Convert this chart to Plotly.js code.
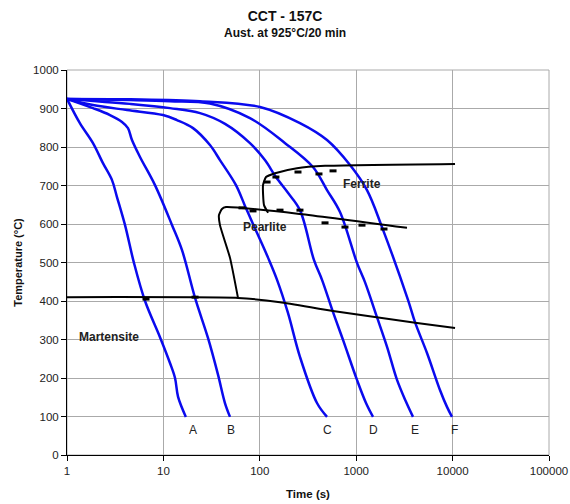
<!DOCTYPE html>
<html>
<head>
<meta charset="utf-8">
<script src="https://cdn.plot.ly/plotly-3.0.1.min.js"></script>
<style>
  html, body { margin: 0; padding: 0; background: #fff; }
  #chart { width: 570px; height: 504px; }
</style>
</head>
<body>
<div id="chart"></div>
<script>
// ---- Cooling curves (time in s, temperature in °C) ----
const curveA_t = [1, 1.36, 1.86, 2.36, 2.93, 3.30, 4.0, 4.95, 6.45, 9.22, 11.7, 13.2, 14.2, 17.1];
const curveA_T = [925, 862, 810, 758, 714, 670, 597, 499, 400, 306, 239, 200, 151, 99];

const curveB_t = [1, 1.86, 2.79, 3.72, 4.29, 4.72, 5.72, 8.18, 12.3, 15.6, 21.3, 29.0, 36.9, 43.5, 49.1];
const curveB_T = [925, 901, 883, 865, 849, 818, 774, 701, 597, 532, 408, 304, 208, 135, 99];

const curveC_t = [1, 1.86, 4.19, 9.9, 13.8, 20.3, 30.4, 38.6, 56.6, 70.2, 85.0, 122, 151, 196, 261, 392, 498];
const curveC_T = [925, 909, 896, 883, 870, 849, 805, 766, 701, 647, 600, 512, 455, 369, 255, 135, 99];

const curveD_t = [1, 4.5, 11.7, 24.0, 43.6, 79.1, 113, 147, 196, 261, 365, 442, 575, 730, 1019, 1264, 1494];
const curveD_T = [925, 912, 901, 888, 860, 810, 766, 722, 681, 636, 506, 455, 371, 299, 195, 135, 99];

const curveE_t = [1, 4.5, 11.7, 30.4, 79.1, 183, 356, 498, 679, 1019, 1233, 1643, 2089, 2651, 3287, 3882];
const curveE_T = [925, 922, 919, 913, 875, 810, 748, 688, 631, 499, 449, 358, 281, 195, 138, 99];

const curveF_t = [1, 4.5, 24.0, 100.5, 261, 498, 863, 1294, 1852, 3445, 4073, 5425, 7395, 8745, 9860];
const curveF_T = [925, 924, 919, 904, 862, 818, 753, 688, 592, 403, 345, 265, 169, 125, 99];

const curveLabels = ['A', 'B', 'C', 'D', 'E', 'F'];

// ---- Transformation boundaries ----
const martensite_t = [1, 59.4, 162, 575, 4272, 10600];
const martensite_T = [410, 408, 397, 374, 343, 330];

const pearlite_t = [59.4, 49.1, 38.6, 37.7, 40.5, 44.6, 261, 3365];
const pearlite_T = [408, 512, 597, 623, 639, 644, 626, 590];

const ferrite_t = [122, 110.6, 108, 116, 144, 243, 475, 10600];
const ferrite_T = [629, 649, 701, 722, 732, 745, 751, 756];

// ---- Measured transformation points ----
const ferritePts_t = [119, 147, 249, 411, 575];
const ferritePts_T = [709, 722, 735, 730, 738];
const pearlitePts_t = [65.4, 85.0, 162, 261, 475, 765, 1148, 1942];
const pearlitePts_T = [642, 634, 636, 636, 603, 592, 597, 587];
const martPts_t = [6.60, 21.3];
const martPts_T = [405, 410];

// ---- Axis ticks ----
const xTickVals = [1, 10, 100, 1000, 10000, 100000];
const xTickText = ['1', '10', '100', '1000', '10000', '100000'];

const FONT = 'Liberation Sans, Arial, sans-serif';
const BLUE = '#0a0aee';

const curves = [
  [curveA_t, curveA_T], [curveB_t, curveB_T], [curveC_t, curveC_T],
  [curveD_t, curveD_T], [curveE_t, curveE_T], [curveF_t, curveF_T]
];

const traces = [];
curves.forEach(function (c) {
  traces.push({
    x: c[0], y: c[1], mode: 'lines', type: 'scatter',
    line: { color: BLUE, width: 2.5, shape: 'spline', smoothing: 1 },
    hoverinfo: 'skip'
  });
});

[[martensite_t, martensite_T], [pearlite_t, pearlite_T], [ferrite_t, ferrite_T]].forEach(function (b) {
  traces.push({
    x: b[0], y: b[1], mode: 'lines', type: 'scatter',
    line: { color: '#000', width: 2, shape: 'spline', smoothing: 0.5 },
    hoverinfo: 'skip'
  });
});

[[ferritePts_t, ferritePts_T], [pearlitePts_t, pearlitePts_T], [martPts_t, martPts_T]].forEach(function (p) {
  traces.push({
    x: p[0], y: p[1], mode: 'markers', type: 'scatter',
    marker: { symbol: 'line-ew', size: 5, color: '#000', line: { color: '#000', width: 3 } },
    hoverinfo: 'skip'
  });
});

const labelShift = [7, 1, 0, 0, 2, 2];
const annotations = curves.map(function (c, i) {
  const n = c[0].length;
  return {
    x: Math.log10(c[0][n - 1]), y: c[1][n - 1], xref: 'x', yref: 'y',
    text: curveLabels[i], showarrow: false, yshift: -13, xshift: labelShift[i],
    font: { family: FONT, size: 12, color: '#222' }
  };
});

annotations.push(
  { x: 3.06, y: 704, xref: 'x', yref: 'y', text: '<b>Ferrite</b>', showarrow: false,
    font: { family: FONT, size: 12, color: '#222' } },
  { x: 2.054, y: 592, xref: 'x', yref: 'y', text: '<b>Pearlite</b>', showarrow: false,
    font: { family: FONT, size: 12, color: '#222' } },
  { x: 0.436, y: 306, xref: 'x', yref: 'y', text: '<b>Martensite</b>', showarrow: false,
    font: { family: FONT, size: 12, color: '#222' } },
  { x: 0.452, y: 1.096, xref: 'paper', yref: 'paper', text: '<b>Aust. at 925°C/20 min</b>',
    showarrow: false, xanchor: 'center', yanchor: 'middle',
    font: { family: FONT, size: 12, color: '#111' } }
);

const layout = {
  width: 570, height: 504,
  margin: { l: 67, r: 21, t: 70, b: 49 },
  paper_bgcolor: '#fff', plot_bgcolor: '#fff',
  showlegend: false,
  title: {
    text: '<b>CCT - 157C</b>',
    x: 0.5, xref: 'container', xanchor: 'center',
    y: 1 - 16 / 504, yref: 'container', yanchor: 'middle',
    font: { family: FONT, size: 14, color: '#111' }
  },
  xaxis: {
    type: 'log', range: [0, 5],
    tickvals: xTickVals, ticktext: xTickText,
    ticks: 'outside', ticklen: 5, tickcolor: '#000', tickwidth: 1,
    showline: true, linecolor: '#000', linewidth: 1,
    showgrid: true, gridcolor: '#aaaaaa', gridwidth: 1,
    zeroline: false,
    tickfont: { family: FONT, size: 11.5, color: '#222' },
    title: { text: '<b>Time (s)</b>', standoff: 14, font: { family: FONT, size: 11.5, color: '#111' } }
  },
  yaxis: {
    range: [0, 1000], dtick: 100, tick0: 0,
    ticks: 'outside', ticklen: 5, tickcolor: '#000', tickwidth: 1,
    showline: true, linecolor: '#000', linewidth: 1,
    showgrid: true, gridcolor: '#aaaaaa', gridwidth: 1,
    zeroline: false,
    tickfont: { family: FONT, size: 11.5, color: '#222' },
    title: { text: '<b>Temperature (°C)</b>', standoff: 8, font: { family: FONT, size: 11, color: '#111' } }
  },
  shapes: [
    { type: 'rect', xref: 'paper', yref: 'paper', x0: 0, x1: 1, y0: 0, y1: 1,
      line: { color: '#aaaaaa', width: 1 }, layer: 'below' }
  ],
  annotations: annotations
};

Plotly.newPlot('chart', traces, layout, { staticPlot: true, displayModeBar: false });
</script>
</body>
</html>
